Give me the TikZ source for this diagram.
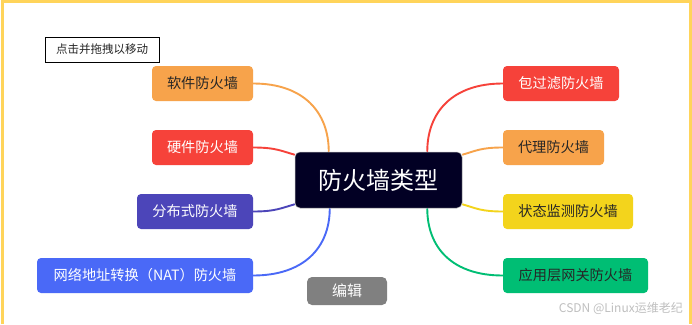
\documentclass[tikz,border=0pt]{standalone}
\usepackage{fontspec}
\setmainfont{Noto Sans CJK SC}
\usetikzlibrary{calc}
\pgfdeclarelayer{background}
\pgfsetlayers{background,main}
\definecolor{cOrange}{HTML}{F7A34B}
\definecolor{cRed}{HTML}{F6423A}
\definecolor{cPurple}{HTML}{4C45B9}
\definecolor{cBlue}{HTML}{4A69F7}
\definecolor{cNavy}{HTML}{020024}
\definecolor{cYellow}{HTML}{F3D41C}
\definecolor{cGreen}{HTML}{00BE74}
\definecolor{cGray}{HTML}{808080}
\definecolor{cFrame}{HTML}{FFD45A}
\definecolor{cDark}{HTML}{262626}
\tikzset{
  branch/.style={rounded corners=4pt, inner sep=0pt, minimum height=35pt, font=\fontsize{14.2}{16}\selectfont},
  link/.style={line width=1.9pt},
}
\begin{document}
\begin{tikzpicture}[x=1pt,y=-1pt]
\useasboundingbox (0,0) rectangle (692,324);
\begin{pgfonlayer}{background}
\fill[white] (0,0) rectangle (692,324);
\end{pgfonlayer}
% frame
\draw[cFrame, line width=2.5pt] (2.5,324) -- (2.5,1.5) -- (690.5,1.5) -- (690.5,324);

% hint box
\node[draw=black, line width=0.8pt, fill=white, minimum width=114pt, minimum height=25pt, inner sep=0pt, font=\fontsize{11.5}{13}\selectfont, text=cDark] (hint) at (102,49.5) {点击并拖拽以移动};

% central node
\node[fill=cNavy, draw=gray!60, line width=0.5pt, rounded corners=5pt, minimum width=167pt, minimum height=56pt, inner sep=0pt, font=\fontsize{24}{28}\selectfont, text=white] (center) at (378.5,180) {防火墙类型};

% left branches
\node[branch, fill=cOrange, text=cDark, minimum width=101pt] (soft) at (202.5,83.5) {软件防火墙};
\node[branch, fill=cRed, text=white, minimum width=101pt] (hard) at (202.5,147.5) {硬件防火墙};
\node[branch, fill=cPurple, text=white, minimum width=116pt] (dist) at (195,211.5) {分布式防火墙};
\node[branch, fill=cBlue, text=white, minimum width=216pt] (nat) at (145,275.5) {网络地址转换（NAT）防火墙};

% right branches
\node[branch, fill=cRed, text=white, minimum width=116pt] (pkt) at (561,83.5) {包过滤防火墙};
\node[branch, fill=cOrange, text=cDark, minimum width=101pt] (proxy) at (553.5,147.5) {代理防火墙};
\node[branch, fill=cYellow, text=cDark, minimum width=130pt] (state) at (568,211.5) {状态监测防火墙};
\node[branch, fill=cGreen, text=cDark, minimum width=145pt] (app) at (575.5,275.5) {应用层网关防火墙};

% edit button
\node[fill=cGray, rounded corners=5pt, minimum width=80pt, minimum height=28pt, inner sep=0pt, font=\fontsize{15}{17}\selectfont, text=white] (edit) at (347,291) {编辑};

% watermark
\node[anchor=east, inner sep=0pt, font=\fontsize{12}{14}\selectfont, text=black!25] (wm) at (683,308.5) {CSDN @Linux运维老纪};

% connector end points on the central node
\coordinate (cTL) at ($(center.north west)+(34,0)$);
\coordinate (cTR) at ($(center.north east)+(-35,0)$);
\coordinate (cBL) at ($(center.south west)+(35,0)$);
\coordinate (cBR) at ($(center.south east)+(-35,0)$);
\coordinate (cLU) at ($(center.north west)+(0,3)$);
\coordinate (cLD) at ($(center.south west)+(0,-4)$);
\coordinate (cRU) at ($(center.north east)+(0,3)$);
\coordinate (cRD) at ($(center.south east)+(0,-4)$);

% connectors (behind the nodes)
\begin{pgfonlayer}{background}
\draw[link, cOrange] (soft.east) .. controls +(50,0) and +(0,-40) .. (cTL);
\draw[link, cRed] (hard.east) .. controls +(22,0) and +(-14,-4) .. (cLU);
\draw[link, cPurple] (dist.east) .. controls +(22,0) and +(-14,4) .. (cLD);
\draw[link, cBlue] (nat.east) .. controls +(50,0) and +(0,40) .. (cBL);

\draw[link, cRed] (pkt.west) .. controls +(-50,0) and +(0,-40) .. (cTR);
\draw[link, cOrange] (proxy.west) .. controls +(-22,0) and +(14,-4) .. (cRU);
\draw[link, cYellow] (state.west) .. controls +(-22,0) and +(14,4) .. (cRD);
\draw[link, cGreen] (app.west) .. controls +(-50,0) and +(0,40) .. (cBR);
\end{pgfonlayer}
\end{tikzpicture}
\end{document}
